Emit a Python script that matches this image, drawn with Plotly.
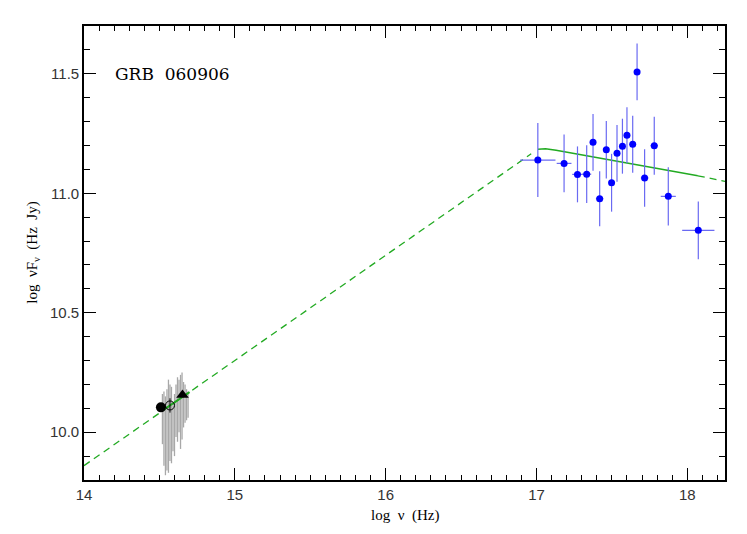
import plotly.graph_objects as go

# X-ray (XRT) spectrum points: log nu, log nuFnu, errors
xr_x = [17.009, 17.183, 17.272, 17.333, 17.375, 17.419, 17.463, 17.498, 17.534,
        17.570, 17.600, 17.638, 17.667, 17.717, 17.781, 17.874, 18.073]
xr_y = [11.139, 11.125, 11.079, 11.080, 11.213, 10.977, 11.182, 11.044, 11.167,
        11.197, 11.243, 11.205, 11.508, 11.064, 11.199, 10.987, 10.845]
xr_xerr = [0.117, 0.049, 0.035, 0.030, 0.010, 0.025, 0.010, 0.012, 0.010,
           0.010, 0.010, 0.010, 0.010, 0.025, 0.025, 0.050, 0.107]
xr_yerr = [0.155, 0.121, 0.117, 0.121, 0.119, 0.115, 0.120, 0.121, 0.119,
           0.115, 0.117, 0.119, 0.119, 0.120, 0.121, 0.122, 0.121]

# optical spectrum (grey error bars)
op_x = [14.52, 14.53, 14.54, 14.55, 14.56, 14.57, 14.58, 14.59, 14.60,
        14.61, 14.62, 14.63, 14.64, 14.65, 14.66, 14.67, 14.68, 14.69]
op_lo = [9.95, 9.86, 9.82, 9.84, 9.83, 9.88, 9.87, 9.92, 9.90,
         9.98, 9.96, 10.00, 9.93, 9.97, 10.02, 10.04, 10.05, 10.06]
op_hi = [10.16, 10.17, 10.15, 10.18, 10.22, 10.20, 10.19, 10.12, 10.16,
         10.20, 10.23, 10.22, 10.24, 10.25, 10.21, 10.20, 10.18, 10.17]

# photometric points
dot_x, dot_y = [14.51], [10.104]
ring_x, ring_y, ring_err = [14.57], [10.112], [0.03]
tri_x, tri_y = [14.653], [10.156]

# model: extrapolated (dashed) and fitted (solid) parts
mod_dash_x = [14.0, 16.965]
mod_dash_y = [9.86, 11.165]
mod_opt_x = [14.53, 14.70]
mod_opt_y = [10.095, 10.168]
mod_x_x = [17.01, 17.06, 17.13, 18.07]
mod_x_y = [11.184, 11.186, 11.180, 11.073]
mod_tail_x = [18.07, 18.25]
mod_tail_y = [11.073, 11.05]

green = "#22aa22"
fig = go.Figure()

# grey optical spectrum as vertical segments
gx, gy = [], []
for x, lo, hi in zip(op_x, op_lo, op_hi):
    gx += [x, x, None]
    gy += [lo, hi, None]
fig.add_trace(go.Scatter(x=gx, y=gy, mode="lines",
                         line=dict(color="#a8a8a8", width=1.3), hoverinfo="skip"))

fig.add_trace(go.Scatter(x=mod_dash_x, y=mod_dash_y, mode="lines",
                         line=dict(color=green, width=1.3, dash="7px,5px")))
fig.add_trace(go.Scatter(x=mod_tail_x, y=mod_tail_y, mode="lines",
                         line=dict(color=green, width=1.3, dash="7px,5px")))
fig.add_trace(go.Scatter(x=mod_opt_x, y=mod_opt_y, mode="lines",
                         line=dict(color=green, width=2)))
fig.add_trace(go.Scatter(x=mod_x_x, y=mod_x_y, mode="lines",
                         line=dict(color=green, width=1.6)))

# X-ray points
fig.add_trace(go.Scatter(
    x=xr_x, y=xr_y, mode="markers",
    marker=dict(color="#0000ff", size=7),
    error_x=dict(type="data", array=xr_xerr, color="#6a6af2", thickness=1.2, width=0),
    error_y=dict(type="data", array=xr_yerr, color="#6a6af2", thickness=1.2, width=0),
))

# optical photometry
fig.add_trace(go.Scatter(x=dot_x, y=dot_y, mode="markers",
                         marker=dict(color="black", size=10)))
fig.add_trace(go.Scatter(
    x=ring_x, y=ring_y, mode="markers",
    marker=dict(color="rgba(0,0,0,0)", size=9, line=dict(color="black", width=1)),
    error_y=dict(type="data", array=ring_err, color="black", thickness=1, width=0)))
fig.add_trace(go.Scatter(x=tri_x, y=tri_y, mode="markers",
                         marker=dict(color="black", size=11, symbol="triangle-up")))

axis_common = dict(
    showline=True, linecolor="black", linewidth=1.6, mirror="allticks",
    ticks="inside", ticklen=12, tickwidth=1.2, tickcolor="black",
    showgrid=False, zeroline=False,
    tickfont=dict(family="Liberation Sans, Arial", size=15, color="#333"),
)
fig.update_xaxes(range=[14, 18.25], dtick=1, tick0=14,
                 minor=dict(dtick=0.1, ticks="inside", ticklen=5, tickcolor="black"),
                 **axis_common)
fig.update_yaxes(range=[9.8, 11.7], dtick=0.5, tick0=10, tickformat=".1f",
                 minor=dict(dtick=0.1, ticks="inside", ticklen=6, tickcolor="black"),
                 **axis_common)

serif = "Liberation Serif, Times New Roman, serif"
fig.add_annotation(x=14.19, y=11.5, xref="x", yref="y", text="GRB  060906",
                   showarrow=False, xanchor="left", yanchor="middle",
                   font=dict(family="DejaVu Serif", size=17, color="black"))
fig.add_annotation(x=0.5, y=-0.079, xref="paper", yref="paper", text="log  ν  (Hz)",
                   showarrow=False, xanchor="center", yanchor="middle",
                   font=dict(family=serif, size=15, color="black"))
fig.add_annotation(x=-0.08, y=0.5, xref="paper", yref="paper",
                   text="log  νF<sub>ν</sub>  (Hz  Jy)", textangle=-90,
                   showarrow=False, xanchor="center", yanchor="middle",
                   font=dict(family=serif, size=15, color="black"))

# page body adds an 8px offset, so margins are shifted to keep the plot box in place
fig.update_layout(
    width=747, height=534, showlegend=False,
    plot_bgcolor="white", paper_bgcolor="white",
    margin=dict(l=76, r=30, t=18, b=62),
)
fig.write_html("out.html")
